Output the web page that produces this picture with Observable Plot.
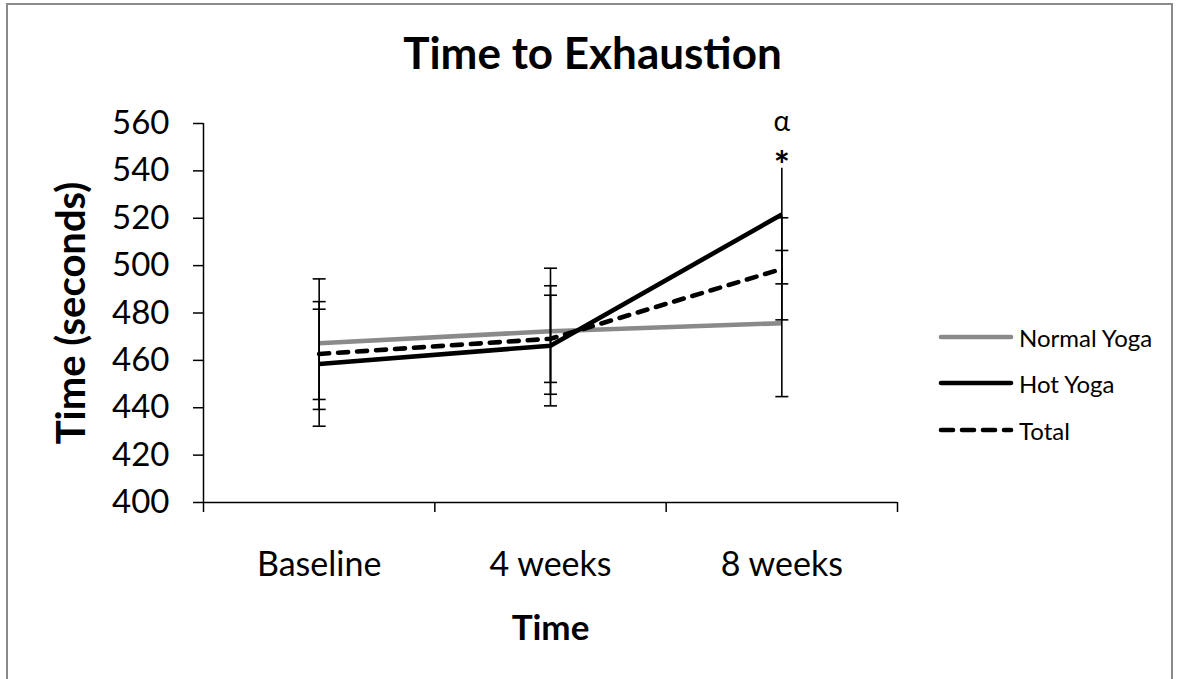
<!DOCTYPE html>
<html>
<head>
<meta charset="utf-8">
<script src="https://cdn.jsdelivr.net/npm/d3@7"></script>
<script src="https://cdn.jsdelivr.net/npm/@observablehq/plot@0.6"></script>
<style>
  html, body { margin: 0; padding: 0; background: #fff; overflow: hidden; }
  #wrap { position: relative; width: 1180px; height: 679px; font-family: Lato, sans-serif; }
  #frame { position: absolute; left: 6px; top: 3px; width: 1167px; height: 720px; border: 2px solid #8a8a8a; box-sizing: border-box; }
  #chart { position: absolute; left: 0; top: 0; }
  #legend { position: absolute; left: 938px; top: 0; }
  .row { position: absolute; left: 0; display: flex; align-items: center; white-space: nowrap; font-size: 24px; color: #000; }
  .row svg { display: block; margin-right: 5px; }
</style>
</head>
<body>
<div id="wrap">
  <div id="frame"></div>
  <div id="chart"></div>
  <div id="legend"></div>
</div>
<script>
// Time to exhaustion (seconds) at each time point, with error bar ends
const categories = ["Baseline", "4 weeks", "8 weeks"];
const seriesNames = ["Normal Yoga", "Hot Yoga", "Total"];

const normalMean = [467.2, 472.3, 475.7];
const normalLow  = [439.3, 445.7, 444.7];
const normalHigh = [494.4, 498.9, 506.4];

const hotMean = [458.5, 466.2, 521.6];
const hotLow  = [432.2, 440.8, 492.3];
const hotHigh = [484.8, 491.5, 541.1];

const totalMean = [462.7, 469.1, 498.6];
const totalLow  = [443.5, 450.7, 477.1];
const totalHigh = [481.6, 487.5, 520.2];

const yTicks = [400, 420, 440, 460, 480, 500, 520, 540, 560];

// significance markers above the 8-week Hot Yoga bar
const markers = ["*", "α"];

const colors = {"Normal Yoga": "#8a8a8a", "Hot Yoga": "#000000", "Total": "#000000"};
const dashes = {"Normal Yoga": null, "Hot Yoga": null, "Total": "10,9"};

const table = [];
[[normalMean, normalLow, normalHigh], [hotMean, hotLow, hotHigh], [totalMean, totalLow, totalHigh]]
  .forEach(([m, lo, hi], s) => {
    categories.forEach((c, i) => {
      table.push({series: seriesNames[s], cat: c, pos: i + 0.5, mean: m[i], low: lo[i], high: hi[i]});
    });
  });

// cap ends of every error bar; the asterisk sits on top of the 8-week Hot Yoga bar, so no cap there
const caps = [];
table.forEach(d => {
  caps.push({pos: d.pos, v: d.low});
  if (!(d.series === "Hot Yoga" && d.cat === "8 weeks")) caps.push({pos: d.pos, v: d.high});
});

// horizontal stroke used as an error-bar cap
const capSymbol = {
  draw(context, size) {
    const w = Math.sqrt(size / Math.PI);
    context.moveTo(-w, 0);
    context.lineTo(w, 0);
  }
};

const hot8 = table.find(d => d.series === "Hot Yoga" && d.cat === "8 weeks");

const lineMarks = seriesNames.map(name =>
  Plot.line(table.filter(d => d.series === name), {
    x: "pos", y: "mean",
    stroke: colors[name],
    strokeWidth: 4.6,
    strokeDasharray: dashes[name],
    strokeLinecap: dashes[name] ? "round" : "butt",
    strokeLinejoin: "miter"
  })
);

const chart = Plot.plot({
  width: 1180,
  height: 679,
  marginLeft: 203,
  marginRight: 283,
  marginTop: 123,
  marginBottom: 177,
  style: {fontFamily: "Lato, sans-serif", background: "transparent", color: "#000", overflow: "visible"},
  x: {domain: [0, 3]},
  y: {domain: [400, 560]},
  marks: [
    Plot.axisY({ticks: yTicks, tickSize: 10, tickPadding: 24, fontSize: 33, label: null, strokeWidth: 1.5, tickFormat: d => String(d)}),
    Plot.axisX({ticks: [0, 1, 2, 3], tickSize: 10, tickFormat: () => "", label: null, strokeWidth: 1.5}),
    Plot.axisX({ticks: [0.5, 1.5, 2.5], tickSize: 0, tickPadding: 49, fontSize: 34, label: null, tickFormat: d => categories[Math.floor(d)]}),
    Plot.ruleX([0], {strokeWidth: 1.5}),
    Plot.ruleY([400], {strokeWidth: 1.5}),
    ...lineMarks,
    Plot.ruleX(table, {x: "pos", y1: "low", y2: "high", stroke: "#000", strokeWidth: 1.6}),
    Plot.dot(caps, {x: "pos", y: "v", symbol: capSymbol, r: 6.5, stroke: "#000", strokeWidth: 1.6, fill: "none"}),
    Plot.text([markers[0]], {x: () => hot8.pos, y: () => hot8.high, dy: -1, fontSize: 38, fontWeight: "bold", fill: "#000"}),
    Plot.text([markers[1]], {x: () => hot8.pos, y: () => hot8.high, dy: -46, fontSize: 28, fill: "#000"}),
    Plot.text(["Time to Exhaustion"], {frameAnchor: "top", lineAnchor: "middle", dx: 42, dy: -69, fontSize: 44, fontWeight: "bold", fill: "#000"}),
    Plot.text(["Time (seconds)"], {frameAnchor: "left", textAnchor: "middle", lineAnchor: "middle", dx: -131, rotate: -90, fontSize: 40, fontWeight: "bold", fill: "#000"}),
    Plot.text(["Time"], {frameAnchor: "bottom", lineAnchor: "middle", dy: 126, fontSize: 35, fontWeight: "bold", fill: "#000"})
  ]
});
document.getElementById("chart").appendChild(chart);

// legend
const legendRows = [337, 383, 430];
const legend = document.getElementById("legend");
seriesNames.forEach((name, i) => {
  const row = document.createElement("div");
  row.className = "row";
  row.style.top = (legendRows[i] - 15) + "px";
  row.style.height = "30px";
  const dash = dashes[name] ? `stroke-dasharray="12,9" stroke-linecap="round"` : `stroke-linecap="round"`;
  row.innerHTML = `<svg width="76" height="10"><line x1="3" y1="5" x2="73" y2="5" stroke="${colors[name]}" stroke-width="4.6" ${dash}/></svg><span>${name}</span>`;
  legend.appendChild(row);
});
</script>
</body>
</html>
